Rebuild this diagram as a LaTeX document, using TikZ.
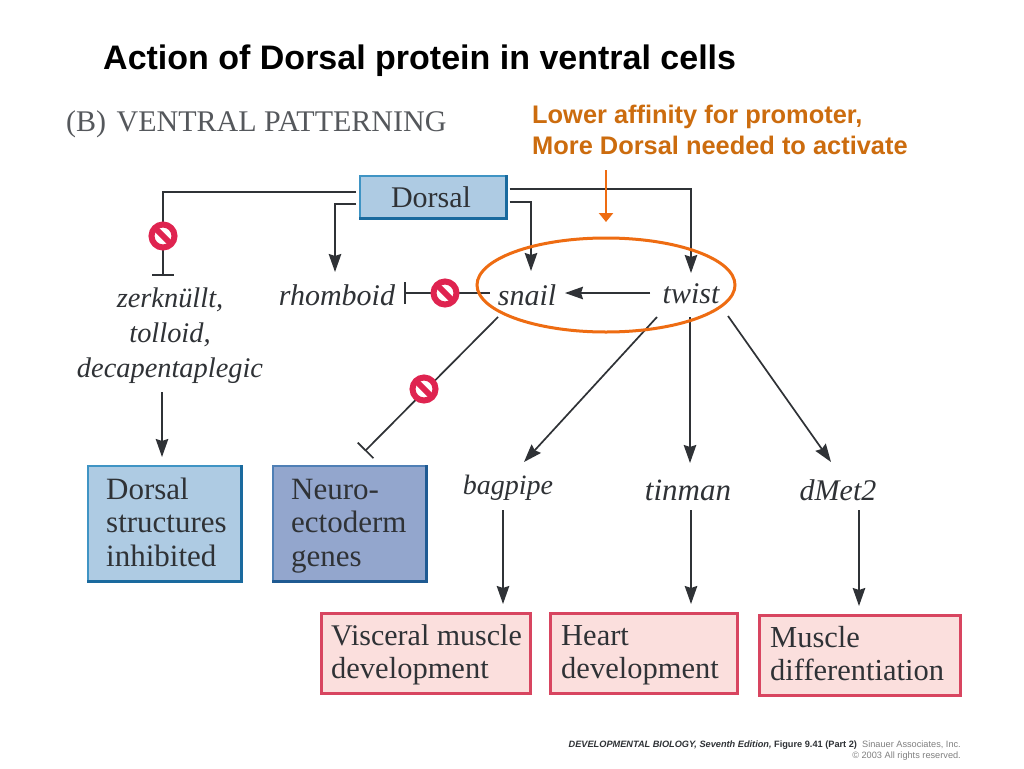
\documentclass[tikz,border=0pt]{standalone}
\usepackage{fontspec}
\setmainfont{Liberation Serif}
\newfontfamily\arialf{Liberation Sans}
\usetikzlibrary{arrows.meta,shapes.geometric,calc,backgrounds}
\definecolor{ink}{HTML}{2F3236}
\definecolor{stopred}{HTML}{DF2450}
\definecolor{orng}{HTML}{EE6C12}
\definecolor{orngt}{HTML}{CC6C0E}
\definecolor{bluefill}{HTML}{AECBE3}
\definecolor{blueedge}{HTML}{3F94C4}
\definecolor{bluedark}{HTML}{1A6A9E}
\definecolor{navyfill}{HTML}{93A6CD}
\definecolor{navyedge}{HTML}{4F7FB5}
\definecolor{navydark}{HTML}{1F5A92}
\definecolor{pinkfill}{HTML}{FBDFDD}
\definecolor{pinkedge}{HTML}{D84560}
\definecolor{headgray}{HTML}{55585C}
\tikzset{
  x=1pt,y=-1pt,
  gene/.style={font=\fontsize{30}{35}\selectfont\itshape,text=ink,inner sep=0pt,align=center},
  boxlabel/.style={text=ink,align=left,anchor=base west,inner sep=0pt},
  bluelabel/.style={boxlabel,font=\fontsize{31}{33.5}\selectfont},
  pinklabel/.style={boxlabel,font=\fontsize{30.5}{33}\selectfont},
  emptybox/.style={anchor=north west,inner sep=0pt},
  bluebox/.style={emptybox,draw=blueedge,fill=bluefill,line width=1.5pt},
  navybox/.style={emptybox,draw=navyedge,fill=navyfill,line width=1.5pt},
  pinkbox/.style={emptybox,draw=pinkedge,fill=pinkfill,line width=2.5pt},
  conn/.style={draw=ink,line width=1.7pt},
  arr/.style={conn,-{Stealth[length=18pt,width=12.5pt,inset=2pt]}},
  inhib/.style={conn,-{Bar[width=22pt,length=1.7pt]}},
  stopsign/.style={circle,draw=stopred,fill=white,line width=6pt,minimum size=23pt,inner sep=0pt,
    path picture={\draw[stopred,line width=6pt] (path picture bounding box.north west)--(path picture bounding box.south east);}},
  orangetext/.style={font=\arialf\bfseries\fontsize{25.4}{31}\selectfont,text=orngt,align=left,inner sep=0pt},
}
\begin{document}
\begin{tikzpicture}
\useasboundingbox (0,0) rectangle (1024,768);
% title and headings
\node[anchor=base west,inner sep=0pt,font=\arialf\bfseries\fontsize{34}{36}\selectfont] (title) at (103,70) {Action of Dorsal protein in ventral cells};
\node[anchor=base west,inner sep=0pt,text=headgray,font=\fontsize{30}{34}\selectfont] (head) at (66,131) {(B)\hspace{10.5pt}VENTRAL PATTERNING};
\node[anchor=base west,orangetext] (note) at (532,154) {Lower affinity for promoter,\\More Dorsal needed to activate};
% boxes
\node[bluebox,minimum width=146pt,minimum height=42pt] (dorsal) at (359,175) {};
\draw[bluedark,line width=3pt] (dorsal.north east)--(dorsal.south east)--(dorsal.south west);
\node[anchor=base,inner sep=0pt,text=ink,font=\fontsize{30}{33}\selectfont] (dorsallabel) at (431,207) {Dorsal};
\node[bluebox,minimum width=153pt,minimum height=115pt] (dsi) at (87,465) {};
\draw[bluedark,line width=3pt] (dsi.north east)--(dsi.south east)--(dsi.south west);
\node[bluelabel] (dsilabel) at (106,566) {Dorsal\\structures\\inhibited};
\node[navybox,minimum width=153pt,minimum height=115pt] (neg) at (272,465) {};
\draw[navydark,line width=3pt] (neg.north east)--(neg.south east)--(neg.south west);
\node[bluelabel] (neglabel) at (291,566) {Neuro-\\ectoderm\\genes};
\node[pinkbox,minimum width=209pt,minimum height=80pt] (vmd) at (320,612) {};
\node[pinklabel] (vmdlabel) at (331,678) {{\fontsize{30}{33}\selectfont Visceral muscle}\\development};
\node[pinkbox,minimum width=187pt,minimum height=80pt] (hd) at (549,612) {};
\node[pinklabel] (hdlabel) at (561,678) {Heart\\development};
\node[pinkbox,minimum width=201pt,minimum height=80pt] (md) at (758,614) {};
\node[pinklabel] (mdlabel) at (770,680) {Muscle\\differentiation};
% genes
\node[gene,font=\fontsize{28.4}{35}\selectfont\itshape] (zer) at (170,336) {zerknüllt,\\tolloid,\\decapentaplegic};
\node[gene] (rho) at (337,295) {rhomboid};
\node[gene] (snail) at (527,295) {snail};
\node[gene] (twist) at (691,294) {twist};
\node[gene,font=\fontsize{28}{35}\selectfont\itshape] (bag) at (508,488) {bagpipe};
\node[gene,font=\fontsize{31}{35}\selectfont\itshape] (tin) at (688,490) {tinman};
\node[gene] (dmet) at (838,490) {dMet2};
% ellipse
\node[ellipse,draw=orng,line width=3pt,minimum width=258pt,minimum height=94pt,inner sep=0pt] (oval) at (606,285) {};
% stop signs
\node[stopsign] (s1) at (163,236) {};
\node[stopsign] (s2) at (445,293) {};
\node[stopsign] (s3) at (424,389) {};
% free ends
\coordinate (zerbar) at (163,276);
\coordinate (rhobar) at (404,293);
\coordinate (snaileast) at (490,293);
\coordinate (snailsw) at (498,317);
\coordinate (negbar) at (365,451);
\coordinate (oarrow) at (606,170);
\coordinate (oarrowend) at (606,222);
% connectors
\begin{scope}[on background layer]
\fill[white] (0,0) rectangle (1024,768);
\draw[conn] ([xshift=-3pt,yshift=4.5pt]dorsal.west) -| (s1.center);
\draw[inhib] (s1.center) -- (zerbar);
\draw[arr] ([xshift=-3pt,yshift=-7.5pt]dorsal.west) -| (335,272);
\draw[arr] ([xshift=3pt,yshift=7.5pt]dorsal.east) -| (691,273);
\draw[arr] ([xshift=3pt,yshift=-5.5pt]dorsal.east) -| (531,271);
\draw[inhib] (s2.center) -- (rhobar);
\draw[conn] (s2.center) -- (snaileast);
\draw[arr] (650,293) -- (565,293);
\draw[inhib] (snailsw) -- (negbar);
\draw[arr] (162,392) -- (162,457);
\draw[arr] (657,317) -- (524,462);
\draw[arr] (690,317) -- (690,463);
\draw[arr] (728,316) -- (831,462);
\draw[arr] (503,510) -- (503,604);
\draw[arr] (691,510) -- (691,604);
\draw[arr] (859,510) -- (859,606);
\draw[draw=orng,line width=2.8pt,-{Triangle[length=9pt,width=14pt]}] (oarrow) -- (oarrowend);
\end{scope}
% footer
\node[anchor=base east,inner sep=0pt,font=\arialf\fontsize{9.2}{11}\selectfont,text=ink] (foot1) at (961,747) {\textbf{\textit{DEVELOPMENTAL BIOLOGY, Seventh Edition,} Figure 9.41 (Part 2)}\ \ \textcolor{gray}{Sinauer Associates, Inc.}};
\node[anchor=base east,inner sep=0pt,font=\arialf\fontsize{9.2}{11}\selectfont,text=gray] (foot2) at (961,758) {© 2003 All rights reserved.};
\end{tikzpicture}
\end{document}
